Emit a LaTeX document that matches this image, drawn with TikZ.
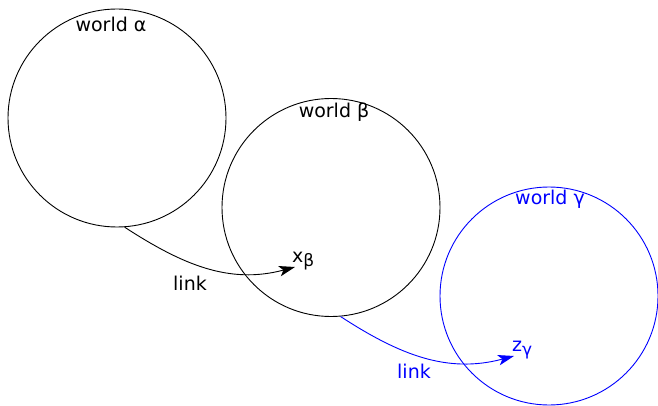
\documentclass[tikz,border=0pt]{standalone}
\usepackage{fontspec}
\setmainfont{DejaVu Sans}
\usetikzlibrary{arrows.meta}
\begin{document}
\begin{tikzpicture}[x=1pt,y=-1pt,
  world/.style={circle,draw,line width=0.9pt,minimum size=218pt,inner sep=0pt},
  lbl/.style={font=\fontsize{19}{21}\selectfont,inner sep=0pt},
  link/.style={line width=0.9pt,-{Stealth[length=16pt,width=10.5pt,inset=4pt]}}]
\useasboundingbox (0,0) rectangle (658,406);
\node[world] (a) at (117,118) {};
\node[world] (b) at (331,207.5) {};
\node[world,draw=blue] (c) at (549,296) {};
\node[lbl] (la) at (111,24) {world α};
\node[lbl] (lb) at (334,112) {world β};
\node[lbl,text=blue] (lc) at (550,199) {world γ};
\node[lbl,anchor=south west] (xb) at (292,270) {x\raisebox{-0.35ex}{\fontsize{17}{19}\selectfont β}};
\node[lbl,anchor=south west,text=blue] (zc) at (512,359) {z\raisebox{-0.35ex}{\fontsize{17}{19}\selectfont γ}};
\node[lbl] (l1) at (190,283) {link};
\node[lbl,text=blue] (l2) at (414,371) {link};
\coordinate (e1) at (295,267);
\coordinate (e2) at (514,356);
\draw[link] (a.-86) to[out=-33,in=195] (e1);
\draw[link,blue] (b.-85) to[out=-33,in=195] (e2);
\end{tikzpicture}
\end{document}
